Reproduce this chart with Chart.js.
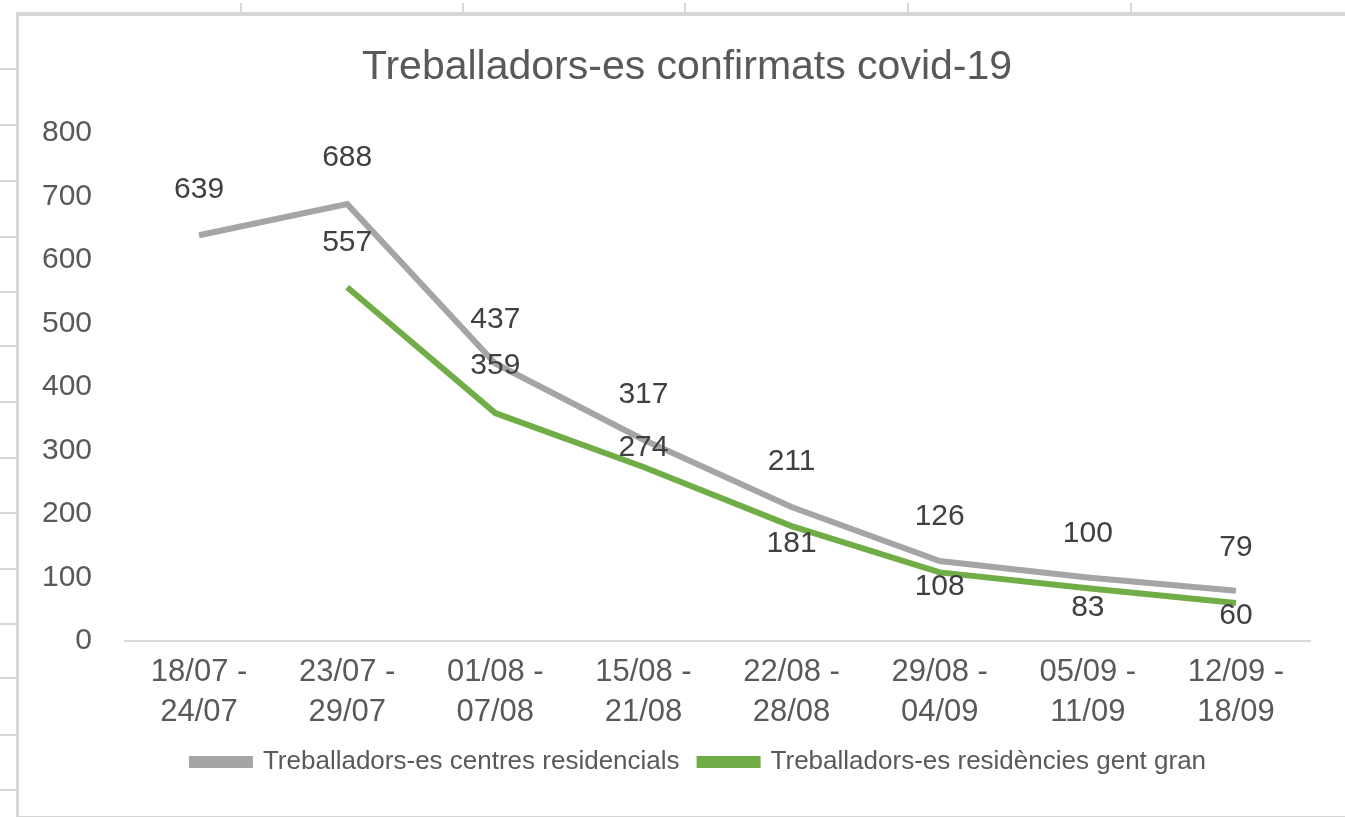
<!DOCTYPE html>
<html>
<head>
<meta charset="utf-8">
<script src="https://cdn.jsdelivr.net/npm/chart.js@4.4.0/dist/chart.umd.min.js"></script>
<style>
  html, body { margin: 0; padding: 0; background: #ffffff; }
  #wrap { position: relative; width: 1345px; height: 817px; overflow: hidden; background: #fff; }
  #frame { position: absolute; left: 16px; top: 12px; width: 1340px; height: 800px;
           border-top: 4px solid #d6d6d6; border-left: 3px solid #d6d6d6; border-bottom: 3px solid #d6d6d6; }
  .ht { position: absolute; left: 0; width: 16px; height: 2px; background: #d6d6d6; }
  .vt { position: absolute; top: 3px; width: 2px; height: 11px; background: #d6d6d6; }
  canvas { position: absolute; left: 0; top: 0; }
</style>
</head>
<body>
<div id="wrap">
  <div id="frame"></div>
  <canvas id="c" width="1345" height="817"></canvas>
</div>
<script>
const title = 'Treballadors-es confirmats covid-19';
const categories = [
  ['18/07 -', '24/07'], ['23/07 -', '29/07'], ['01/08 -', '07/08'], ['15/08 -', '21/08'],
  ['22/08 -', '28/08'], ['29/08 -', '04/09'], ['05/09 -', '11/09'], ['12/09 -', '18/09']
];
const seriesNames = ['Treballadors-es centres residencials', 'Treballadors-es residències gent gran'];
const centresResidencials = [639, 688, 437, 317, 211, 126, 100, 79];
const residenciesGentGran = [null, 557, 359, 274, 181, 108, 83, 60];
const yTicks = [0, 100, 200, 300, 400, 500, 600, 700, 800];

// label vertical offsets (style only)
const labelOffsets = [
  [-46, -46, -44, -45, -45, -44, -44, -43],
  [0, -45, -47, -19, 18, 14, 19, 13]
];

// spreadsheet frame decoration
(function () {
  const wrap = document.getElementById('wrap');
  const rows = [68, 124, 180, 236, 291, 345, 401, 457, 512, 568, 623, 677, 734, 789];
  rows.forEach(y => { const d = document.createElement('div'); d.className = 'ht'; d.style.top = y + 'px'; wrap.appendChild(d); });
  const cols = [240, 462, 684, 907, 1130];
  cols.forEach(x => { const d = document.createElement('div'); d.className = 'vt'; d.style.left = x + 'px'; wrap.appendChild(d); });
})();

const textColor = '#595959';
const bodyFont = "'Liberation Sans', Arial, sans-serif";

const dataLabels = {
  id: 'dataLabels',
  afterDatasetsDraw(chart) {
    const ctx = chart.ctx;
    ctx.save();
    ctx.font = "30px " + bodyFont;
    ctx.fillStyle = '#404040';
    ctx.textAlign = 'center';
    ctx.textBaseline = 'middle';
    chart.data.datasets.forEach((ds, di) => {
      const meta = chart.getDatasetMeta(di);
      meta.data.forEach((pt, i) => {
        const v = ds.data[i];
        if (v === null || v === undefined) return;
        ctx.fillText(String(v), pt.x, pt.y + labelOffsets[di][i]);
      });
    });
    ctx.restore();
  }
};

const chartTitle = {
  id: 'chartTitle',
  afterLayout(chart) {
    if (chart.legend) { chart.legend.left += 44; chart.legend.right += 44; }
  },
  afterDraw(chart) {
    const ctx = chart.ctx;
    ctx.save();
    ctx.font = "41px " + bodyFont;
    ctx.fillStyle = textColor;
    ctx.textAlign = 'center';
    ctx.textBaseline = 'middle';
    ctx.fillText(title, 687, 68);
    ctx.restore();
  }
};

new Chart(document.getElementById('c'), {
  type: 'line',
  data: {
    labels: categories,
    datasets: [
      { label: seriesNames[0], data: centresResidencials, borderColor: '#a5a5a5', backgroundColor: '#a5a5a5',
        borderWidth: 6, pointRadius: 0, fill: false, tension: 0 },
      { label: seriesNames[1], data: residenciesGentGran, borderColor: '#70ad47', backgroundColor: '#70ad47',
        borderWidth: 6, pointRadius: 0, fill: false, tension: 0 }
    ]
  },
  options: {
    responsive: false,
    animation: false,
    devicePixelRatio: 1,
    layout: { padding: { left: 0, right: 35, top: 133, bottom: 32 } },
    plugins: {
      title: { display: false },
      legend: { position: 'bottom',
        labels: { color: textColor, font: { family: bodyFont, size: 26 }, boxWidth: 58, boxHeight: 6, padding: 20 } },
      tooltip: { enabled: false }
    },
    scales: {
      x: {
        offset: true,
        grid: { display: false, drawTicks: false },
        border: { display: true, color: '#d9d9d9', width: 2 },
        ticks: { color: textColor, font: { family: bodyFont, size: 31, lineHeight: 1.3 }, padding: 11, maxRotation: 0, autoSkip: false },
        afterFit(scale) { scale.height = 88; }
      },
      y: {
        min: 0, max: 800,
        grid: { display: false, drawTicks: false },
        border: { display: false },
        afterBuildTicks(scale) { scale.ticks = yTicks.map(v => ({ value: v })); },
        ticks: { color: textColor, font: { family: bodyFont, size: 30 }, padding: 33 },
        afterFit(scale) { scale.width = 125; }
      }
    }
  },
  plugins: [dataLabels, chartTitle]
});
</script>
</body>
</html>
